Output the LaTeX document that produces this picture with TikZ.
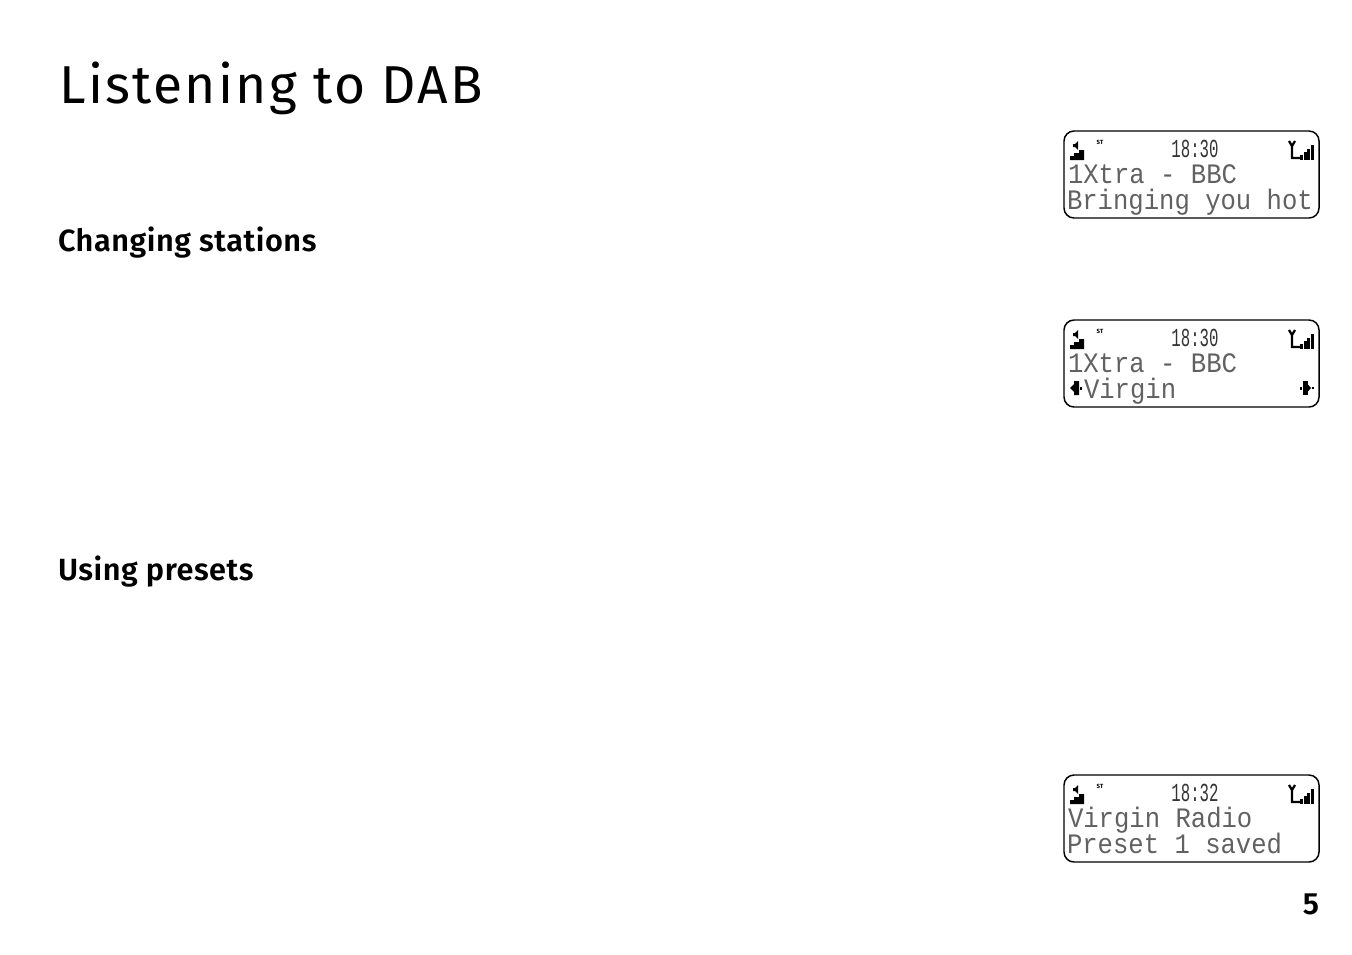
\documentclass[tikz,border=0pt]{standalone}
\usepackage{fontspec}
\setmainfont{Fira Sans}
\newfontfamily\lcdfont{Liberation Mono}
\newfontfamily\titlefont[LetterSpace=4.3]{Fira Sans}
\newfontfamily\headfont[LetterSpace=1.8]{Fira Sans SemiBold}
\newcommand{\lcdtext}[2][1.1]{\scalebox{1}[#1]{#2}}
\begin{document}
\begin{tikzpicture}[
        x=0.75pt, y=-0.75pt,
        lcdpanel/.style = {draw=black, line width=1.1pt, rounded corners=7.5pt},
        lcdline/.style = {anchor=base west, inner sep=0pt, outer sep=0pt, text=black!62,
              font=\lcdfont\fontsize{19.2pt}{19.2pt}\selectfont},
        lcdclock/.style = {anchor=base, inner sep=0pt, outer sep=0pt, text=black!80,
              font=\lcdfont\fontsize{11.8pt}{11.8pt}\selectfont},
        lcdicon/.style = {fill=black, draw=none},
        heading/.style = {anchor=base west, inner sep=0pt, outer sep=0pt,
              font=\headfont\fontsize{23pt}{23pt}\selectfont},
    ]
    \useasboundingbox (0,0) rectangle (1352,954);
    \node[anchor=base west, inner sep=0pt, font=\titlefont\fontsize{40pt}{40pt}\selectfont] (title) at (59,103) {Listening to DAB};
    \node[heading] (changing) at (58,251) {Changing stations};
    \node[heading] (presets) at (58,580) {Using presets};
    \node[heading, anchor=base east] (pageno) at (1319,914) {5};
    % the three displays
    \foreach \py/\clock/\rowa/\rowb in {131/18:30/1Xtra - BBC/Bringing you hot,
                                        320/18:30/1Xtra - BBC/{},
                                        775/18:32/Virgin Radio/Preset 1 saved} {
        \begin{scope}[shift={(1064,\py)}]
            \draw[lcdpanel] (0,0) rectangle (255,87);
            % speaker
            \fill[lcdicon] (9,13) -- (11,13) -- (14,10) -- (14,19) -- (11,16) -- (9,16) -- cycle;
            % volume bars
            \fill[lcdicon] (6,29) -- (6,25) -- (10,25) -- (10,22) -- (15,22) -- (15,19) -- (20,19) -- (20,29) -- cycle;
            \node[inner sep=0pt, font=\bfseries\fontsize{4.5pt}{4.5pt}\selectfont] (st\py) at (36,11) {ST};
            \node[lcdclock] (clock\py) at (131,26) {\lcdtext[1.65]{\clock}};
            % aerial
            \draw[line width=1.7pt] (225,10) -- (228,15) -- (231,10) (228,15) -- (228,27) -- (236,27);
            % signal bars
            \foreach \bx/\bh in {236/5,239.5/8,243/11,246.5/15}
                \fill[lcdicon] (\bx,29) rectangle ++(3.1,-\bh);
            \node[lcdline] (rowa\py) at (4,52) {\lcdtext{\rowa}};
            \node[lcdline] (rowb\py) at (3,78) {\lcdtext{\rowb}};
        \end{scope}
    }
    % tuning arrows of the middle display
    \begin{scope}[shift={(1064,320)}]
        \node[lcdline] (virgin) at (20,78) {\lcdtext{Virgin}};
        \fill[lcdicon] (6,68) -- (10,64) -- (10,61) -- (15,61) -- (15,75) -- (10,75) -- (10,72) -- cycle;
        \fill[lcdicon] (15.8,66.5) rectangle (18,69.5);
        \fill[lcdicon] (236,66.5) rectangle (238,69.5);
        \fill[lcdicon] (239,61) rectangle (243.5,75);
        \fill[lcdicon] (243.5,64) -- (247,68) -- (243.5,72) -- cycle;
        \fill[lcdicon] (247.5,67) rectangle (249.5,69);
    \end{scope}
\end{tikzpicture}
\end{document}
